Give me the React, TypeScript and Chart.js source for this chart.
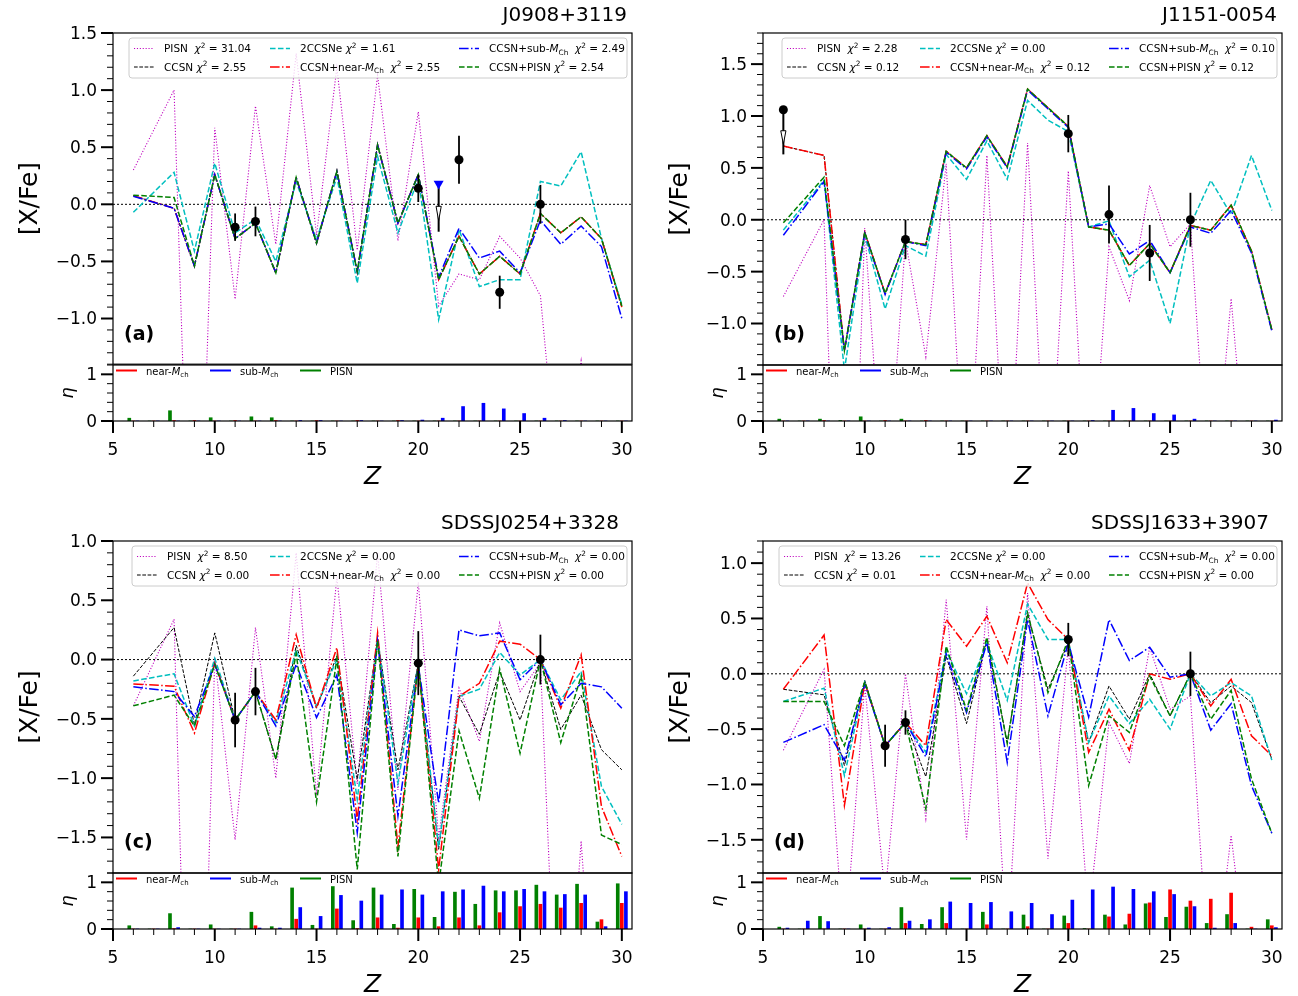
import React, { useEffect, useRef } from "react";
import { Chart, registerables } from "chart.js";

Chart.register(...registerables);

const FONT = "'DejaVu Sans', 'Liberation Sans', sans-serif";
Chart.defaults.font.family = FONT;

// ---------------- data ----------------
const Z_MODEL = [6, 8, 9, 10, 11, 12, 13, 14, 15, 16, 17, 18, 19, 20, 21, 22, 23, 24, 25, 26, 27, 28, 29, 30];
const Z_BAR = [6, 7, 8, 9, 10, 11, 12, 13, 14, 15, 16, 17, 18, 19, 20, 21, 22, 23, 24, 25, 26, 27, 28, 29, 30];
const X_TICKS = [5, 10, 15, 20, 25, 30];
const ETA_TICKS = [0, 1];

// (a) J0908+3119
const A_TITLE = "J0908+3119";
const A_YTICKS = [-1.0, -0.5, 0.0, 0.5, 1.0, 1.5];
const A_PISN = [0.30, 1.00, -4.6, 0.67, -0.83, 0.86, -0.35, 1.32, -0.27, 1.2, -0.40, 1.13, -0.32, 0.81, -0.89, -0.61, -0.66, -0.28, -0.47, -0.80, -2.7, -1.37, -3.0, -3.0];
const A_CCSN = [0.075, -0.035, -0.54, 0.26, -0.30, -0.165, -0.60, 0.235, -0.34, 0.29, -0.59, 0.52, -0.165, 0.26, -0.66, -0.28, -0.61, -0.455, -0.61, -0.08, -0.25, -0.11, -0.30, -0.90];
const A_2CC = [-0.07, 0.28, -0.41, 0.36, -0.25, -0.13, -0.50, 0.20, -0.31, 0.24, -0.69, 0.42, -0.25, 0.22, -1.01, -0.22, -0.72, -0.66, -0.66, 0.20, 0.16, 0.46, -0.30, -0.88];
const A_NEAR = [0.075, -0.035, -0.54, 0.26, -0.30, -0.165, -0.60, 0.235, -0.34, 0.29, -0.59, 0.52, -0.165, 0.26, -0.66, -0.28, -0.61, -0.455, -0.61, -0.08, -0.25, -0.11, -0.30, -0.90];
const A_SUB = [0.07, -0.035, -0.54, 0.26, -0.30, -0.165, -0.60, 0.235, -0.34, 0.29, -0.59, 0.52, -0.165, 0.26, -0.64, -0.21, -0.47, -0.41, -0.60, -0.14, -0.35, -0.19, -0.37, -1.0];
const A_CPISN = [0.08, 0.06, -0.54, 0.26, -0.30, -0.165, -0.60, 0.235, -0.34, 0.29, -0.59, 0.52, -0.165, 0.26, -0.66, -0.28, -0.61, -0.455, -0.61, -0.08, -0.25, -0.11, -0.30, -0.89];
const A_OBS_Z = [11, 12, 20, 22, 24, 26];
const A_OBS = [-0.20, -0.15, 0.14, 0.39, -0.77, 0.0];
const A_ERR = [0.12, 0.13, 0.12, 0.21, 0.145, 0.17];
const A_UL_Z = [21];
const A_UL = [0.18];
const A_UL_LEN = 0.42;
const A_CHI = [31.04, 2.55, 1.61, 2.55, 2.49, 2.54];
const A_ETA_PISN = [0.06, 0, 0.22, 0, 0.07, 0, 0.09, 0.07, 0, 0, 0, 0, 0, 0, 0, 0, 0, 0, 0, 0, 0, 0, 0, 0, 0];
const A_ETA_NEAR = [0, 0, 0.01, 0.01, 0, 0.01, 0, 0.01, 0, 0.01, 0, 0.01, 0, 0.01, 0, 0, 0, 0, 0, 0, 0, 0, 0, 0, 0];
const A_ETA_SUB = [0, 0, 0, 0, 0, 0, 0, 0, 0.01, 0.01, 0, 0.01, 0, 0.01, 0.02, 0.06, 0.31, 0.38, 0.26, 0.16, 0.06, 0.01, 0, 0, 0];

// (b) J1151-0054
const B_TITLE = "J1151-0054";
const B_YTICKS = [-1.0, -0.5, 0.0, 0.5, 1.0, 1.5];
const B_PISN = [-0.74, 0.0, -5.8, -0.08, -3.0, -0.2, -1.32, 0.54, -3.0, 0.62, -3.0, 0.74, -3.0, 0.47, -3.0, -0.26, -0.78, 0.33, -0.26, -0.04, -3.0, -0.76, -3.0, -3.0];
const B_CCSN = [0.71, 0.62, -1.26, -0.12, -0.71, -0.21, -0.24, 0.66, 0.50, 0.81, 0.51, 1.26, 1.08, 0.90, -0.07, -0.10, -0.44, -0.23, -0.51, -0.055, -0.10, 0.14, -0.30, -1.06];
const B_2CC = [-0.10, 0.38, -1.45, -0.15, -0.86, -0.25, -0.35, 0.63, 0.39, 0.76, 0.39, 1.15, 0.96, 0.85, -0.07, -0.01, -0.55, -0.39, -1.0, -0.05, 0.38, 0.05, 0.62, 0.09];
const B_NEAR = [0.71, 0.62, -1.26, -0.12, -0.71, -0.21, -0.24, 0.66, 0.50, 0.81, 0.51, 1.26, 1.08, 0.90, -0.07, -0.10, -0.44, -0.23, -0.51, -0.055, -0.10, 0.14, -0.30, -1.06];
const B_SUB = [-0.15, 0.37, -1.26, -0.13, -0.72, -0.21, -0.25, 0.65, 0.49, 0.80, 0.50, 1.25, 1.07, 0.89, -0.07, -0.04, -0.33, -0.20, -0.51, -0.07, -0.13, 0.09, -0.32, -1.07];
const B_CPISN = [-0.03, 0.41, -1.26, -0.12, -0.71, -0.21, -0.24, 0.66, 0.50, 0.81, 0.51, 1.26, 1.08, 0.90, -0.07, -0.10, -0.44, -0.23, -0.51, -0.055, -0.10, 0.14, -0.30, -1.06];
const B_OBS_Z = [12, 20, 22, 24, 26];
const B_OBS = [-0.19, 0.83, 0.05, -0.32, 0.0];
const B_ERR = [0.19, 0.18, 0.28, 0.27, 0.26];
const B_UL_Z = [6];
const B_UL = [1.06];
const B_UL_LEN = 0.43;
const B_CHI = [2.28, 0.12, 0.0, 0.12, 0.1, 0.12];
const B_ETA_PISN = [0.04, 0, 0.04, 0.01, 0.09, 0, 0.04, 0, 0, 0, 0, 0, 0, 0, 0, 0, 0, 0, 0, 0, 0, 0, 0, 0, 0];
const B_ETA_NEAR = [0, 0, 0.01, 0, 0, 0.01, 0, 0.01, 0, 0, 0, 0, 0, 0, 0, 0, 0, 0, 0, 0, 0, 0, 0, 0, 0];
const B_ETA_SUB = [0, 0, 0, 0, 0, 0, 0, 0, 0, 0, 0, 0, 0, 0, 0, 0.01, 0.23, 0.27, 0.16, 0.13, 0.04, 0, 0, 0, 0.02];

// (c) SDSSJ0254+3328
const C_TITLE = "SDSSJ0254+3328";
const C_YTICKS = [-1.5, -1.0, -0.5, 0.0, 0.5, 1.0];
const C_PISN = [-0.39, 0.34, -6.0, 0.02, -1.52, 0.27, -1.0, 0.9, -1.14, 0.7, -1.05, 0.9, -1.1, 0.65, -1.5, -0.24, -0.69, 0.31, -0.27, -0.03, -4.0, -1.53, -4.0, -4.0];
const C_CCSN = [-0.14, 0.27, -0.55, 0.225, -0.51, -0.27, -0.84, 0.12, -0.41, 0.03, -1.01, 0.17, -0.93, -0.03, -1.6, -0.31, -0.63, -0.10, -0.51, 0.0, -0.59, -0.30, -0.76, -0.93];
const C_2CC = [-0.18, -0.12, -0.56, 0.01, -0.51, -0.27, -0.53, 0.08, -0.39, 0.0, -1.18, 0.18, -1.04, -0.03, -1.58, -0.31, -0.25, 0.06, -0.13, 0.0, -0.34, -0.10, -1.07, -1.39];
const C_NEAR = [-0.205, -0.225, -0.62, -0.03, -0.51, -0.27, -0.51, 0.21, -0.41, 0.10, -1.35, 0.225, -1.58, -0.03, -1.77, -0.31, -0.20, 0.155, 0.13, 0.0, -0.41, 0.04, -1.24, -1.66];
const C_SUB = [-0.23, -0.27, -0.48, -0.04, -0.51, -0.27, -0.56, -0.04, -0.49, -0.13, -1.46, 0.155, -1.32, -0.05, -1.21, 0.25, 0.20, 0.225, -0.17, 0.0, -0.38, -0.20, -0.23, -0.41];
const C_CPISN = [-0.39, -0.30, -0.56, -0.04, -0.51, -0.27, -0.84, 0.05, -1.2, 0.01, -1.77, 0.16, -1.66, -0.03, -1.9, -0.60, -1.17, -0.08, -0.79, 0.0, -0.70, -0.14, -1.48, -1.56];
const C_OBS_Z = [11, 12, 20, 26];
const C_OBS = [-0.51, -0.27, -0.03, 0.0];
const C_ERR = [0.23, 0.2, 0.27, 0.21];
const C_CHI = [8.5, 0.0, 0.0, 0.0, 0.0, 0.0];
const C_ETA_PISN = [0.07, 0, 0.33, 0, 0.09, 0, 0.36, 0.05, 0.88, 0.08, 0.91, 0.18, 0.88, 0.1, 0.85, 0.25, 0.79, 0.53, 0.82, 0.82, 0.94, 0.73, 0.96, 0.15, 0.97];
const C_ETA_NEAR = [0, 0, 0.01, 0, 0, 0, 0.07, 0, 0.21, 0, 0.43, 0.01, 0.24, 0.02, 0.24, 0.05, 0.24, 0.07, 0.35, 0.48, 0.53, 0.45, 0.55, 0.2, 0.55];
const C_ETA_SUB = [0, 0, 0.03, 0, 0, 0, 0.02, 0.02, 0.46, 0.27, 0.72, 0.6, 0.73, 0.84, 0.73, 0.8, 0.84, 0.92, 0.8, 0.85, 0.8, 0.74, 0.73, 0.05, 0.8];

// (d) SDSSJ1633+3907
const D_TITLE = "SDSSJ1633+3907";
const D_YTICKS = [-1.5, -1.0, -0.5, 0.0, 0.5, 1.0];
const D_PISN = [-0.69, 0.04, -2.5, -0.1, -2.0, 0.0, -1.31, 0.67, -1.5, 0.61, -2.5, 0.73, -1.67, 0.25, -2.2, -0.44, -0.81, 0.24, -0.32, -0.2, -3.0, -1.46, -3.0, -3.0];
const D_CCSN = [-0.14, -0.19, -0.83, -0.06, -0.65, -0.44, -0.93, 0.16, -0.45, 0.31, -0.62, 0.54, -0.14, 0.28, -0.62, -0.11, -0.41, 0.0, -0.38, 0.0, -0.26, -0.11, -0.26, -0.77];
const D_2CC = [-0.25, -0.13, -0.92, -0.08, -0.65, -0.44, -0.71, 0.21, -0.18, 0.28, -0.24, 0.63, 0.31, 0.31, -0.62, -0.20, -0.45, -0.23, -0.50, 0.0, -0.20, -0.08, -0.20, -0.78];
const D_NEAR = [-0.14, 0.35, -1.19, -0.08, -0.65, -0.44, -0.65, 0.49, 0.25, 0.52, 0.10, 0.82, 0.49, 0.31, -0.71, -0.32, -0.69, 0.0, -0.05, 0.0, -0.29, -0.05, -0.56, -0.74];
const D_SUB = [-0.62, -0.46, -0.78, -0.09, -0.65, -0.44, -0.75, 0.18, -0.35, 0.28, -0.80, 0.49, -0.38, 0.28, -0.39, 0.49, 0.12, 0.24, -0.03, 0.0, -0.51, -0.27, -1.01, -1.44];
const D_CPISN = [-0.25, -0.25, -0.65, -0.07, -0.65, -0.44, -1.22, 0.25, -0.33, 0.33, -0.63, 0.55, -0.17, 0.31, -1.01, -0.38, -0.53, -0.02, -0.38, 0.0, -0.41, -0.15, -0.95, -1.44];
const D_OBS_Z = [11, 12, 20, 26];
const D_OBS = [-0.65, -0.44, 0.31, 0.0];
const D_ERR = [0.19, 0.11, 0.15, 0.2];
const D_CHI = [13.26, 0.01, 0.0, 0.0, 0.0, 0.0];
const D_ETA_PISN = [0.04, 0, 0.27, 0, 0.09, 0, 0.46, 0.1, 0.46, 0, 0.36, 0, 0.3, 0, 0.28, 0.01, 0.3, 0.09, 0.54, 0.25, 0.47, 0.12, 0.31, 0, 0.2];
const D_ETA_NEAR = [0, 0, 0, 0, 0, 0, 0.12, 0, 0.12, 0, 0.09, 0, 0.05, 0, 0.12, 0, 0.26, 0.32, 0.56, 0.84, 0.6, 0.64, 0.77, 0.04, 0.07];
const D_ETA_SUB = [0.02, 0.17, 0.16, 0, 0.02, 0.03, 0.17, 0.2, 0.58, 0.55, 0.57, 0.37, 0.55, 0.31, 0.62, 0.84, 0.9, 0.85, 0.8, 0.74, 0.48, 0.02, 0.12, 0, 0.03];

// ---------------- styles ----------------
const MODEL_STYLES = [
  { color: "#bf00bf", width: 1.1, dash: [1.1, 1.8] },
  { color: "#000000", width: 1, dash: [3.7, 1.6] },
  { color: "#00bfbf", width: 1.5, dash: [5.55, 2.4] },
  { color: "#ff0000", width: 1.5, dash: [9.6, 2.4, 1.5, 2.4] },
  { color: "#0000ff", width: 1.5, dash: [9.6, 2.4, 1.5, 2.4] },
  { color: "#008000", width: 1.5, dash: [5.55, 2.4] },
];
const BAR_COLORS = ["#008000", "#ff0000", "#0000ff"];
const BAR_SHIFT = [-0.2, 0, 0.2];

const PANELS = [
  { key: "a", title: A_TITLE, label: "(a)", yMin: -1.4, yMax: 1.5, yTicks: A_YTICKS,
    models: [A_PISN, A_CCSN, A_2CC, A_NEAR, A_SUB, A_CPISN], chi: A_CHI,
    obsZ: A_OBS_Z, obs: A_OBS, err: A_ERR, ulZ: A_UL_Z, ul: A_UL, ulLen: A_UL_LEN,
    ulMarker: "triangle", ulColor: "#0000ff", eta: [A_ETA_PISN, A_ETA_NEAR, A_ETA_SUB],
    left: 0, top: 0, legCol1: 51, titleGap: 5 },
  { key: "b", title: B_TITLE, label: "(b)", yMin: -1.4, yMax: 1.8, yTicks: B_YTICKS,
    models: [B_PISN, B_CCSN, B_2CC, B_NEAR, B_SUB, B_CPISN], chi: B_CHI,
    obsZ: B_OBS_Z, obs: B_OBS, err: B_ERR, ulZ: B_UL_Z, ul: B_UL, ulLen: B_UL_LEN,
    ulMarker: "circle", ulColor: "#000000", eta: [B_ETA_PISN, B_ETA_NEAR, B_ETA_SUB],
    left: 650, top: 0, legCol1: 54, titleGap: 5 },
  { key: "c", title: C_TITLE, label: "(c)", yMin: -1.8, yMax: 1.0, yTicks: C_YTICKS,
    models: [C_PISN, C_CCSN, C_2CC, C_NEAR, C_SUB, C_CPISN], chi: C_CHI,
    obsZ: C_OBS_Z, obs: C_OBS, err: C_ERR, ulZ: [], ul: [], ulLen: 0,
    ulMarker: "circle", ulColor: "#000000", eta: [C_ETA_PISN, C_ETA_NEAR, C_ETA_SUB],
    left: 0, top: 508, legCol1: 54, titleGap: 13 },
  { key: "d", title: D_TITLE, label: "(d)", yMin: -1.8, yMax: 1.2, yTicks: D_YTICKS,
    models: [D_PISN, D_CCSN, D_2CC, D_NEAR, D_SUB, D_CPISN], chi: D_CHI,
    obsZ: D_OBS_Z, obs: D_OBS, err: D_ERR, ulZ: [], ul: [], ulLen: 0,
    ulMarker: "circle", ulColor: "#000000", eta: [D_ETA_PISN, D_ETA_NEAR, D_ETA_SUB],
    left: 650, top: 508, legCol1: 51, titleGap: 13 },
];

// ---------------- helpers ----------------
type Seg = { t: string; it?: boolean; sub?: boolean; sup?: boolean };

function drawRich(ctx: CanvasRenderingContext2D, segs: Seg[], x: number, base: number, size: number) {
  let cx = x;
  ctx.textAlign = "left";
  ctx.textBaseline = "alphabetic";
  for (const s of segs) {
    const sz = s.sub || s.sup ? size * 0.7 : size;
    ctx.font = `${s.it ? "italic " : ""}${sz}px ${FONT}`;
    const dy = s.sub ? size * 0.22 : s.sup ? -size * 0.42 : 0;
    ctx.fillText(s.t, cx, base + dy);
    cx += ctx.measureText(s.t).width;
  }
  return cx - x;
}

function chiSegs(v: number): Seg[] {
  return [{ t: "χ", it: true }, { t: "2", sup: true }, { t: " = " + v.toFixed(2) }];
}
function legendSegs(i: number, chi: number): Seg[] {
  const m: Seg[] = [{ t: "M", it: true }, { t: "Ch", sub: true }];
  switch (i) {
    case 0: return [{ t: "PISN  " }, ...chiSegs(chi)];
    case 1: return [{ t: "CCSN " }, ...chiSegs(chi)];
    case 2: return [{ t: "2CCSNe " }, ...chiSegs(chi)];
    case 3: return [{ t: "CCSN+near-" }, ...m, { t: "  " }, ...chiSegs(chi)];
    case 4: return [{ t: "CCSN+sub-" }, ...m, { t: "  " }, ...chiSegs(chi)];
    default: return [{ t: "CCSN+PISN " }, ...chiSegs(chi)];
  }
}

function fmtTick(v: number) {
  const s = Math.abs(v).toFixed(1);
  return v < -1e-9 ? "\u2212" + s : s;
}

function drawYTicks(ctx: CanvasRenderingContext2D, scale: any, x0: number, min: number, max: number, step: number, majors: number[]) {
  const n0 = Math.ceil(min / step - 1e-6);
  const n1 = Math.floor(max / step + 1e-6);
  ctx.strokeStyle = "#000";
  ctx.setLineDash([]);
  for (let n = n0; n <= n1; n++) {
    const v = n * step;
    const major = majors.some((m) => Math.abs(m - v) < 1e-6);
    const py = scale.getPixelForValue(v);
    ctx.lineWidth = major ? 2 : 1;
    const len = major ? 12 : 6;
    ctx.beginPath();
    ctx.moveTo(x0 - len, py);
    ctx.lineTo(x0, py);
    ctx.stroke();
  }
}

function mainPlugin(p: any) {
  return {
    id: "mainDecor" + p.key,
    beforeDatasetsDraw(chart: any) {
      const { ctx, chartArea: a } = chart;
      const y0 = chart.scales.y.getPixelForValue(0);
      ctx.save();
      ctx.strokeStyle = "#000";
      ctx.lineWidth = 1;
      ctx.setLineDash([2, 2]);
      ctx.beginPath();
      ctx.moveTo(a.left, y0);
      ctx.lineTo(a.right, y0);
      ctx.stroke();
      ctx.restore();
    },
    beforeDatasetDraw(chart: any, args: any) {
      const { ctx } = chart;
      const xs = chart.scales.x;
      const ys = chart.scales.y;
      if (args.index === 6) {
        ctx.save();
        ctx.strokeStyle = "#000";
        ctx.lineWidth = 1.8;
        p.obsZ.forEach((z: number, i: number) => {
          const px = xs.getPixelForValue(z);
          ctx.beginPath();
          ctx.moveTo(px, ys.getPixelForValue(p.obs[i] + p.err[i]));
          ctx.lineTo(px, ys.getPixelForValue(p.obs[i] - p.err[i]));
          ctx.stroke();
        });
        ctx.restore();
      }
      if (args.index === 7) {
        ctx.save();
        p.ulZ.forEach((z: number, i: number) => {
          const px = xs.getPixelForValue(z);
          const y1 = ys.getPixelForValue(p.ul[i]);
          const y2 = ys.getPixelForValue(p.ul[i] - p.ulLen);
          ctx.strokeStyle = "#000";
          ctx.lineWidth = 2;
          ctx.beginPath();
          ctx.moveTo(px, y1);
          ctx.lineTo(px, y2);
          ctx.stroke();
          const yA = y1 + 0.47 * (y2 - y1);
          const yB = y1 + 0.77 * (y2 - y1);
          ctx.beginPath();
          ctx.moveTo(px - 2.6, yA);
          ctx.lineTo(px + 2.6, yA);
          ctx.lineTo(px, yB);
          ctx.closePath();
          ctx.fillStyle = "#fff";
          ctx.fill();
          ctx.lineWidth = 1;
          ctx.stroke();
        });
        ctx.restore();
      }
    },
    afterDraw(chart: any) {
      const { ctx, chartArea: a } = chart;
      const ys = chart.scales.y;
      ctx.save();
      ctx.strokeStyle = "#000";
      ctx.lineWidth = 1.2;
      ctx.setLineDash([]);
      ctx.strokeRect(a.left, a.top, a.right - a.left, a.bottom - a.top);
      drawYTicks(ctx, ys, a.left, p.yMin, p.yMax, 0.1, p.yTicks);

      // legend
      const textX = [a.left + p.legCol1, a.left + 187, a.left + 376];
      const rows = [a.top + 15.5, a.top + 34];
      const bx = textX[0] - 35;
      const by = a.top + 5;
      ctx.beginPath();
      (ctx as any).roundRect(bx, by, a.right - 5 - bx, 40, 3);
      ctx.fillStyle = "rgba(255,255,255,0.8)";
      ctx.fill();
      ctx.strokeStyle = "#cccccc";
      ctx.lineWidth = 1;
      ctx.stroke();
      for (let i = 0; i < 6; i++) {
        const col = Math.floor(i / 2);
        const row = i % 2;
        const st = MODEL_STYLES[i];
        const tx = textX[col];
        const ry = rows[row];
        ctx.strokeStyle = st.color;
        ctx.lineWidth = st.width;
        ctx.setLineDash(st.dash);
        ctx.beginPath();
        ctx.moveTo(tx - 30, ry);
        ctx.lineTo(tx - 10, ry);
        ctx.stroke();
        ctx.setLineDash([]);
        ctx.fillStyle = "#000";
        drawRich(ctx, legendSegs(i, p.chi[i]), tx, ry + 3.7, 10.5);
      }

      // title
      ctx.fillStyle = "#000";
      ctx.font = `20px ${FONT}`;
      ctx.textAlign = "right";
      ctx.textBaseline = "middle";
      ctx.fillText(p.title, a.right - p.titleGap, a.top - 17.5);
      // y label
      ctx.save();
      ctx.translate(a.left - 83, (a.top + a.bottom) / 2);
      ctx.rotate(-Math.PI / 2);
      ctx.font = `25px ${FONT}`;
      ctx.textAlign = "center";
      ctx.textBaseline = "middle";
      ctx.fillText("[X/Fe]", 0, 0);
      ctx.restore();
      // panel label
      ctx.font = `bold 19px ${FONT}`;
      ctx.textAlign = "left";
      ctx.textBaseline = "middle";
      ctx.fillText(p.label, a.left + 11, a.bottom - 29.5);
      ctx.restore();
    },
  };
}

function subPlugin(p: any) {
  return {
    id: "subDecor" + p.key,
    afterDraw(chart: any) {
      const { ctx, chartArea: a } = chart;
      const xs = chart.scales.x;
      const ys = chart.scales.y;
      ctx.save();
      ctx.strokeStyle = "#000";
      ctx.lineWidth = 1.2;
      ctx.setLineDash([]);
      ctx.strokeRect(a.left, a.top, a.right - a.left, a.bottom - a.top);
      drawYTicks(ctx, ys, a.left, 0, 1.2, 0.2, ETA_TICKS);
      for (let z = 5; z <= 30; z++) {
        const major = X_TICKS.includes(z);
        const px = xs.getPixelForValue(z);
        ctx.lineWidth = major ? 2 : 1;
        ctx.beginPath();
        ctx.moveTo(px, a.bottom);
        ctx.lineTo(px, a.bottom + (major ? 12 : 6));
        ctx.stroke();
      }
      // sub legend
      const items: { off: number; segs: Seg[] }[] = [
        { off: 3, segs: [{ t: "near-" }, { t: "M", it: true }, { t: "ch", sub: true }] },
        { off: 97, segs: [{ t: "sub-" }, { t: "M", it: true }, { t: "ch", sub: true }] },
        { off: 187, segs: [{ t: "PISN" }] },
      ];
      const legColors = [BAR_COLORS[1], BAR_COLORS[2], BAR_COLORS[0]];
      items.forEach((it, i) => {
        const x0 = a.left + it.off;
        ctx.strokeStyle = legColors[i];
        ctx.lineWidth = 2;
        ctx.beginPath();
        ctx.moveTo(x0, a.top + 5.5);
        ctx.lineTo(x0 + 21, a.top + 5.5);
        ctx.stroke();
        ctx.fillStyle = "#000";
        drawRich(ctx, it.segs, x0 + 30, a.top + 9.5, 10);
      });
      // eta label
      ctx.fillStyle = "#000";
      ctx.save();
      ctx.translate(a.left - 45, (a.top + a.bottom) / 2);
      ctx.rotate(-Math.PI / 2);
      ctx.font = `italic 18px ${FONT}`;
      ctx.textAlign = "center";
      ctx.textBaseline = "middle";
      ctx.fillText("η", 0, 0);
      ctx.restore();
      // Z label
      ctx.font = `italic 25px ${FONT}`;
      ctx.textAlign = "center";
      ctx.textBaseline = "middle";
      ctx.fillText("Z", (a.left + a.right) / 2, a.bottom + 56);
      ctx.restore();
    },
  };
}

const TICK_FONT = { family: FONT, size: 17 };

function mainConfig(p: any): any {
  const datasets: any[] = p.models.map((vals: number[], i: number) => ({
    type: "line",
    data: Z_MODEL.map((z, j) => ({ x: z, y: vals[j] })),
    borderColor: MODEL_STYLES[i].color,
    borderWidth: MODEL_STYLES[i].width,
    borderDash: MODEL_STYLES[i].dash,
    pointRadius: 0,
    fill: false,
    tension: 0,
    order: 20 - i,
  }));
  datasets.push({
    type: "line",
    showLine: false,
    data: p.obsZ.map((z: number, i: number) => ({ x: z, y: p.obs[i] })),
    pointRadius: 4.5,
    pointBackgroundColor: "#000",
    pointBorderColor: "#000",
    pointBorderWidth: 0,
    order: 2,
  });
  datasets.push({
    type: "line",
    showLine: false,
    data: p.ulZ.map((z: number, i: number) => ({ x: z, y: p.ul[i] })),
    pointStyle: p.ulMarker,
    pointRotation: 180,
    pointRadius: p.ulMarker === "triangle" ? 5.8 : 4.5,
    pointBackgroundColor: p.ulColor,
    pointBorderColor: p.ulColor,
    pointBorderWidth: 0,
    order: 1,
  });
  return {
    type: "line",
    data: { datasets },
    options: {
      animation: false,
      responsive: false,
      devicePixelRatio: 1,
      events: [],
      layout: { padding: { left: 0, right: 18, top: 33, bottom: 5 } },
      plugins: { legend: { display: false }, tooltip: { enabled: false }, title: { display: false } },
      scales: {
        x: { type: "linear", min: 5, max: 30.5, display: false },
        y: {
          type: "linear",
          min: p.yMin,
          max: p.yMax,
          grid: { display: false, drawTicks: false },
          border: { display: false },
          ticks: { font: TICK_FONT, color: "#000", padding: 16, labelOffset: 1.5, autoSkip: false, callback: (v: number) => fmtTick(v) },
          afterBuildTicks: (s: any) => { s.ticks = p.yTicks.map((v: number) => ({ value: v })); },
          afterFit: (s: any) => { s.width = 113; s.paddingTop = 0; s.paddingBottom = 0; },
        },
      },
    },
    plugins: [mainPlugin(p)],
  };
}

function subConfig(p: any): any {
  const datasets = p.eta.map((vals: number[], k: number) => ({
    type: "bar",
    data: Z_BAR.map((z, j) => ({ x: z + BAR_SHIFT[k], y: vals[j] })),
    backgroundColor: BAR_COLORS[k],
    borderWidth: 0,
    barThickness: 3,
    grouped: false,
  }));
  return {
    type: "bar",
    data: { datasets },
    options: {
      animation: false,
      responsive: false,
      devicePixelRatio: 1,
      events: [],
      layout: { padding: { left: 0, right: 18, top: 5, bottom: 0 } },
      plugins: { legend: { display: false }, tooltip: { enabled: false }, title: { display: false } },
      scales: {
        x: {
          type: "linear",
          min: 5,
          max: 30.5,
          offset: false,
          grid: { display: false, drawTicks: false, offset: false },
          border: { display: false },
          ticks: { font: TICK_FONT, color: "#000", padding: 19, maxRotation: 0, minRotation: 0, autoSkip: false, callback: (v: number) => String(v) },
          afterBuildTicks: (s: any) => { s.ticks = X_TICKS.map((v) => ({ value: v })); },
          afterFit: (s: any) => { s.height = 67; s.paddingLeft = 0; s.paddingRight = 0; },
        },
        y: {
          type: "linear",
          min: 0,
          max: 1.2,
          grid: { display: false, drawTicks: false },
          border: { display: false },
          ticks: { font: TICK_FONT, color: "#000", padding: 16, labelOffset: 1.5, autoSkip: false, callback: (v: number) => String(v) },
          afterBuildTicks: (s: any) => { s.ticks = ETA_TICKS.map((v) => ({ value: v })); },
          afterFit: (s: any) => { s.width = 113; s.paddingTop = 0; s.paddingBottom = 0; },
        },
      },
    },
    plugins: [subPlugin(p)],
  };
}

function Panel({ p }: { p: any }) {
  const mainRef = useRef<HTMLCanvasElement>(null);
  const subRef = useRef<HTMLCanvasElement>(null);
  useEffect(() => {
    const c1 = new Chart(mainRef.current as HTMLCanvasElement, mainConfig(p));
    const c2 = new Chart(subRef.current as HTMLCanvasElement, subConfig(p));
    return () => {
      c1.destroy();
      c2.destroy();
    };
  }, [p]);
  return (
    <>
      <canvas ref={mainRef} width={650} height={370} style={{ position: "absolute", left: p.left, top: p.top }} />
      <canvas ref={subRef} width={650} height={128} style={{ position: "absolute", left: p.left, top: p.top + 360 }} />
    </>
  );
}

export default function App() {
  return (
    <div style={{ position: "fixed", left: 0, top: 0, width: 1298, height: 996, background: "#fff", overflow: "hidden" }}>
      {PANELS.map((p) => (
        <Panel key={p.key} p={p} />
      ))}
    </div>
  );
}
